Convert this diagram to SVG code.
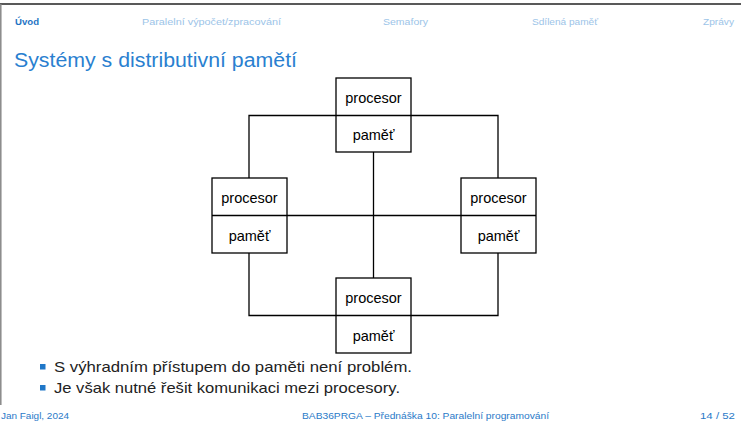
<svg xmlns="http://www.w3.org/2000/svg" width="741" height="421" viewBox="0 0 741 421">
<style>
.nav{font-family:"Liberation Sans",Arial,sans-serif;font-size:9.5px;fill:#9cc4e8}
.cur{fill:#1f74c4;font-weight:bold}
.title{font-family:"Liberation Sans",Arial,sans-serif;font-size:20px;fill:#2a7fd0}
.box{fill:#fff;stroke:#000;stroke-width:1.3}
.lbl{font-family:"Liberation Sans",Arial,sans-serif;font-size:14.5px;fill:#000;text-anchor:middle}
.conn{fill:none;stroke:#000;stroke-width:1.3}
.body{font-family:"Liberation Sans",Arial,sans-serif;font-size:15px;fill:#222}
.bul{fill:#1f77c8}
.foot{font-family:"Liberation Sans",Arial,sans-serif;font-size:9.5px;fill:#2a7ac8}
</style>
<rect width="741" height="421" fill="#fff"/>
<line x1="0" y1="4" x2="741" y2="4" stroke="#222" stroke-width="1.5"/>
<line x1="0.8" y1="4" x2="0.8" y2="405" stroke="#888" stroke-width="1.5"/>
<g id="nav">
<text class="nav cur" x="15" y="25" textLength="24" lengthAdjust="spacingAndGlyphs">Úvod</text>
<text class="nav" x="142" y="25" textLength="139" lengthAdjust="spacingAndGlyphs">Paralelní výpočet/zpracování</text>
<text class="nav" x="383" y="25" textLength="45" lengthAdjust="spacingAndGlyphs">Semafory</text>
<text class="nav" x="532" y="25" textLength="66" lengthAdjust="spacingAndGlyphs">Sdílená paměť</text>
<text class="nav" x="703" y="25" textLength="31" lengthAdjust="spacingAndGlyphs">Zprávy</text>
</g>
<text class="title" x="14" y="67" textLength="283" lengthAdjust="spacingAndGlyphs">Systémy s distributivní pamětí</text>
<g id="connectors">
<path class="conn" d="M249,178 V115.5 H498 V178"/>
<path class="conn" d="M373.5,152 V278"/>
<path class="conn" d="M287,215.5 H461"/>
<path class="conn" d="M249,253 V315.5 H498 V253"/>
</g>
<g id="node-top">
<rect class="box" x="336" y="78" width="75" height="74"/>
<line class="conn" x1="336" y1="115.5" x2="411" y2="115.5"/>
<text class="lbl" x="373.5" y="103">procesor</text>
<text class="lbl" x="373.5" y="140">paměť</text>
</g>
<g id="node-left">
<rect class="box" x="212" y="178" width="75" height="75"/>
<line class="conn" x1="212" y1="215.5" x2="287" y2="215.5"/>
<text class="lbl" x="249.5" y="203">procesor</text>
<text class="lbl" x="249.5" y="241">paměť</text>
</g>
<g id="node-right">
<rect class="box" x="461" y="178" width="75" height="75"/>
<line class="conn" x1="461" y1="215.5" x2="536" y2="215.5"/>
<text class="lbl" x="498.5" y="203">procesor</text>
<text class="lbl" x="498.5" y="241">paměť</text>
</g>
<g id="node-bottom">
<rect class="box" x="336" y="278" width="75" height="75"/>
<line class="conn" x1="336" y1="315.5" x2="411" y2="315.5"/>
<text class="lbl" x="373.5" y="303">procesor</text>
<text class="lbl" x="373.5" y="341">paměť</text>
</g>
<g id="bullets">
<rect class="bul" x="40" y="364" width="5.5" height="5.5"/>
<text class="body" x="54" y="372" textLength="358" lengthAdjust="spacingAndGlyphs">S výhradním přístupem do paměti není problém.</text>
<rect class="bul" x="40" y="385" width="5.5" height="5.5"/>
<text class="body" x="54" y="393" textLength="346" lengthAdjust="spacingAndGlyphs">Je však nutné řešit komunikaci mezi procesory.</text>
</g>
<g id="footer">
<text class="foot" x="1" y="419" textLength="68" lengthAdjust="spacingAndGlyphs">Jan Faigl, 2024</text>
<text class="foot" x="302" y="419" textLength="247" lengthAdjust="spacingAndGlyphs">BAB36PRGA – Přednáška 10: Paralelní programování</text>
<text class="foot" x="700" y="419" textLength="35" lengthAdjust="spacingAndGlyphs">14 / 52</text>
</g>
</svg>
